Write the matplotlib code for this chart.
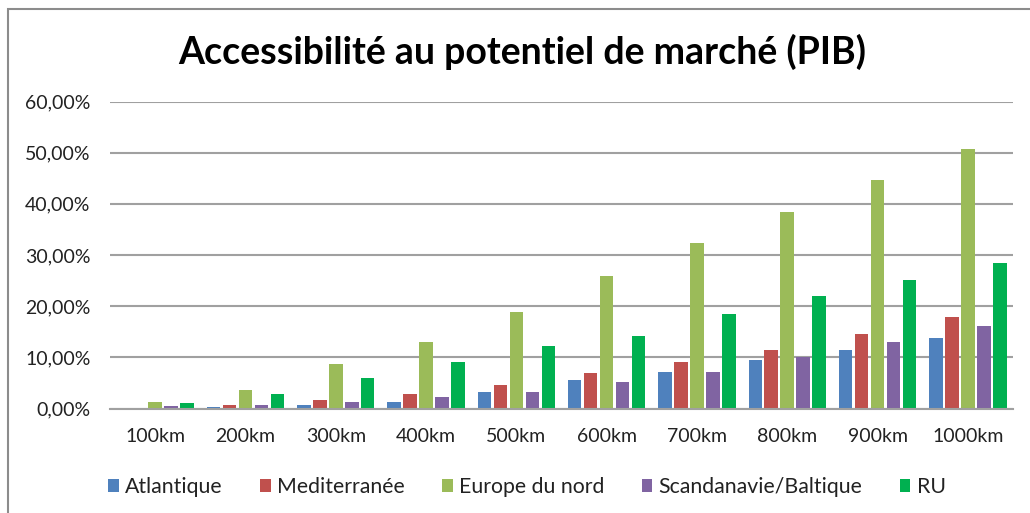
import numpy as np
import matplotlib.pyplot as plt
from matplotlib.patches import Rectangle
from matplotlib.ticker import FuncFormatter

plt.rcParams['font.family'] = ['Lato', 'DejaVu Sans']

categories = ['100km', '200km', '300km', '400km', '500km',
              '600km', '700km', '800km', '900km', '1000km']
series = ['Atlantique', 'Mediterranée', 'Europe du nord', 'Scandanavie/Baltique', 'RU']
atlantique = [0.0, 0.3, 0.7, 1.3, 3.3, 5.5, 7.2, 9.4, 11.35, 13.7]
mediterranee = [0.0, 0.7, 1.7, 2.9, 4.6, 6.85, 9.1, 11.35, 14.6, 17.8]
europe_nord = [1.3, 3.6, 8.7, 12.9, 18.8, 25.9, 32.4, 38.5, 44.7, 50.8]
scandinavie = [0.4, 0.7, 1.3, 2.3, 3.3, 5.2, 7.2, 10.0, 13.0, 16.2]
ru = [1.0, 2.9, 5.9, 9.1, 12.3, 14.2, 18.5, 22.0, 25.2, 28.5]
colors = ['#4F81BD', '#C0504D', '#9BBB59', '#8064A2', '#00B050']

data = [atlantique, mediterranee, europe_nord, scandinavie, ru]

fig = plt.figure(figsize=(10.3, 5.13), dpi=100)
ax = fig.add_axes([110/1030, 1-408.5/513, 903/1030, 307/513])

x = np.arange(len(categories))
slot = 0.177
for i, (name, vals) in enumerate(zip(series, data)):
    ax.bar(x + (i-2)*slot, vals, width=0.15, color=colors[i],
           linewidth=0, label=name, zorder=3)

ax.set_xlim(-0.5, len(categories)-0.5)
ax.set_ylim(0, 60)
ax.set_yticks(np.arange(0, 61, 10))
ax.yaxis.set_major_formatter(FuncFormatter(lambda v, p: ('%.2f%%' % v).replace('.', ',')))
ax.set_xticks(x)
ax.set_xticklabels(categories)
ax.grid(axis='y', color='#A0A0A0', linewidth=1.5, zorder=0)
for s in ['top', 'right', 'left']:
    ax.spines[s].set_visible(False)
ax.spines['bottom'].set_color('#A0A0A0')
ax.spines['bottom'].set_linewidth(1.5)
ax.spines['bottom'].set_zorder(4)
ax.tick_params(axis='both', length=0, labelsize=14, colors='#222222')
ax.tick_params(axis='x', pad=14)
ax.tick_params(axis='y', pad=14)

fig.text(522/1030, 1-52/513, 'Accessibilité au potentiel de marché (PIB)',
         ha='center', va='center', fontsize=27, fontweight='bold')

fig.legend(loc='center', bbox_to_anchor=(527/1030, 1-487/513), ncol=5,
           frameon=False, fontsize=15.3, handlelength=0.5, handleheight=0.5,
           handletextpad=0.3, columnspacing=1.75, labelcolor='#222222')

fig.patches.append(Rectangle((8/1030, -0.1), 1.2, 1.1 - 9/513,
                             transform=fig.transFigure, fill=False,
                             edgecolor='#8C8C8C', linewidth=1.5))

fig.savefig('out.png', dpi=100)
